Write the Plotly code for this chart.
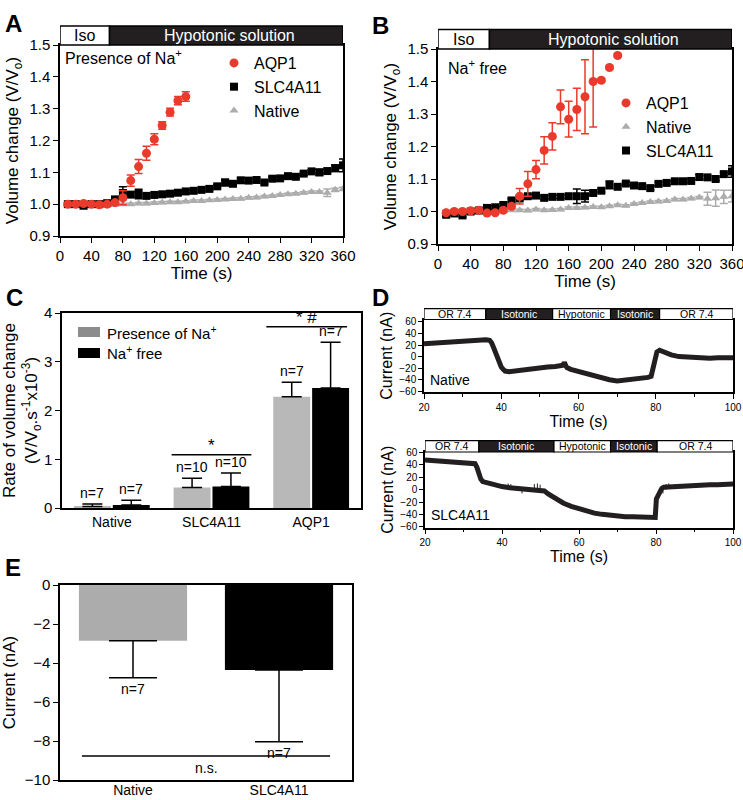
import plotly.graph_objects as go

# ---------------- Panel A data (Presence of Na+) ----------------
a_t_aqp1 = [10, 20, 30, 40, 50, 60, 70, 80, 90, 100, 110, 120, 130, 140, 150, 160]
a_aqp1 = [1.000, 1.000, 1.002, 1.000, 0.998, 1.000, 1.005, 1.020, 1.074, 1.118, 1.160, 1.204, 1.247, 1.289, 1.325, 1.338]
a_aqp1_err = [0.004, 0.004, 0.004, 0.004, 0.004, 0.004, 0.006, 0.022, 0.018, 0.022, 0.022, 0.017, 0.012, 0.012, 0.013, 0.015]

a_t = [10, 20, 30, 40, 50, 60, 70, 80, 90, 100, 110, 120, 130, 140, 150, 160, 170, 180,
       190, 200, 210, 220, 230, 240, 250, 260, 270, 280, 290, 300, 310, 320, 330, 340, 350, 360]
a_slc = [1.000, 1.000, 0.995, 1.000, 1.000, 1.003, 1.015, 1.035, 1.030, 1.032, 1.026, 1.029,
         1.031, 1.033, 1.036, 1.040, 1.042, 1.045, 1.048, 1.056, 1.068, 1.064, 1.075, 1.074,
         1.076, 1.068, 1.080, 1.081, 1.088, 1.086, 1.096, 1.103, 1.100, 1.104, 1.113, 1.122]
a_slc_err = [0.004, 0.004, 0.004, 0.004, 0.004, 0.004, 0.008, 0.020, 0.008, 0.015, 0.005, 0.005,
             0.005, 0.005, 0.005, 0.005, 0.005, 0.005, 0.005, 0.005, 0.010, 0.005, 0.008, 0.005,
             0.005, 0.005, 0.005, 0.005, 0.005, 0.005, 0.005, 0.005, 0.010, 0.006, 0.010, 0.020]
a_nat = [1.000, 1.000, 1.000, 1.000, 1.000, 0.998, 0.998, 1.000, 1.000, 1.002, 1.002, 1.004,
         1.005, 1.006, 1.006, 1.008, 1.010, 1.010, 1.012, 1.013, 1.015, 1.016, 1.017, 1.020,
         1.021, 1.024, 1.026, 1.029, 1.031, 1.033, 1.036, 1.038, 1.038, 1.036, 1.045, 1.048]
a_nat_err = [0.003] * 33 + [0.012, 0.005, 0.005]

# ---------------- Panel B data (Na+ free) ----------------
b_t_aqp1 = [10, 20, 30, 40, 50, 60, 70, 80, 90, 100, 110, 120, 130, 140, 150, 160, 170, 180, 190, 200, 210, 220]
b_aqp1 = [0.996, 1.000, 1.000, 1.002, 1.004, 0.995, 0.996, 1.004, 1.016, 1.047, 1.085, 1.129,
          1.188, 1.231, 1.322, 1.284, 1.314, 1.353, 1.400, 1.404, 1.443, 1.480]
b_aqp1_err = [0.004, 0.004, 0.004, 0.004, 0.004, 0.004, 0.004, 0.004, 0.006, 0.024, 0.038, 0.028,
              0.042, 0.042, 0.052, 0.055, 0.065, 0.114, 0.140, 0.005, 0.005, 0.005]
b_t = a_t
b_slc = [0.990, 0.994, 0.988, 1.000, 1.003, 1.011, 1.013, 1.020, 1.034, 1.040, 1.047, 1.049,
         1.042, 1.045, 1.045, 1.047, 1.047, 1.047, 1.057, 1.064, 1.082, 1.076, 1.086, 1.080,
         1.078, 1.072, 1.085, 1.088, 1.093, 1.093, 1.094, 1.106, 1.105, 1.100, 1.115, 1.123]
b_slc_err = [0.005] * 16 + [0.022, 0.018, 0.005, 0.005, 0.012] + [0.005] * 10 + [0.008, 0.005, 0.005, 0.005, 0.018]
b_nat = [1.000, 1.000, 1.000, 1.000, 1.000, 1.000, 1.000, 1.002, 1.004, 1.004, 1.003, 1.006,
         1.004, 1.005, 1.006, 1.011, 1.011, 1.012, 1.014, 1.013, 1.016, 1.019, 1.018, 1.023,
         1.026, 1.029, 1.031, 1.032, 1.037, 1.037, 1.040, 1.043, 1.039, 1.041, 1.045, 1.047]
b_nat_err = [0.003] * 32 + [0.020, 0.025, 0.020, 0.018]

# ---------------- Panel C data ----------------
c_cats = ["Native", "SLC4A11", "AQP1"]
c_na = [0.03, 0.42, 2.28]
c_na_err = [0.05, 0.19, 0.30]
c_free = [0.06, 0.44, 2.46]
c_free_err = [0.10, 0.28, 0.94]
c_n_na = ["n=7", "n=10", "n=7"]
c_n_free = ["n=7", "n=10", "n=7"]
c_sig_text = ["*", "* #"]
c_sig_x0 = [0.6, 1.55]
c_sig_x1 = [1.4, 2.36]
c_sig_y = [1.09, 3.72]

# ---------------- Panel D data (current traces) ----------------
d1_t = [20, 22, 24, 26, 28, 30, 32, 34, 36, 37, 37.5, 38, 38.5, 39, 39.5, 40, 40.5, 41, 42, 44, 46, 48,
        50, 52, 54, 55, 56, 56.3, 57, 58, 60, 62, 64, 66, 68, 70, 72, 74, 76, 78, 78.8, 79.3, 79.8,
        80.3, 81, 82, 83, 84, 86, 88, 90, 92, 94, 96, 98, 100]
d1_i = [22, 23, 24, 24, 25, 26, 27, 28, 29, 28, 24, 16, 6, -4, -12, -18, -22, -25, -26, -24, -23, -21,
        -20, -18, -17, -16, -15, -10, -19, -22, -26, -30, -34, -37, -40, -42, -41, -40, -38, -36, -34,
        -20, -2, 8, 11, 8, 5, 3, 0, -1, -2, -2, -3, -2, -2, -2]
d1_bounds = [20, 36, 53.3, 68.3, 81, 100]
d2_t = [20, 22, 24, 26, 28, 30, 32, 33, 33.5, 34, 34.5, 35, 36, 38, 40, 42, 44, 46, 48, 50, 51, 52, 54,
        56, 58, 60, 62, 64, 66, 68, 70, 72, 74, 76, 78, 79.8, 80.1, 80.5, 81, 81.5, 82, 84, 86, 88,
        90, 92, 94, 96, 98, 100]
d2_i = [48, 47, 46, 45, 44, 43, 43, 42, 36, 25, 17, 13, 11, 8, 5, 3, 2, 2, 1, 0, -2, -7, -15,
        -22, -27, -31, -34, -38, -40, -42, -43, -44, -44, -45, -46, -45, -15, -10, -8, 2, 4, 5, 6, 7,
        7, 8, 8, 8, 9, 9]
# artifact spikes in the SLC4A11 trace: time, low, high
d2_spike_t = [41.6, 42.3, 45.2, 48.4, 49.2, 49.9, 81.8, 82.6, 83.3]
d2_spike_lo = [2, 2, -6, 0, 0, -1, -6, 0, 2]
d2_spike_hi = [10, 9, 3, 9, 10, 8, 6, 9, 10]
d2_bounds = [20, 34, 53.5, 68.2, 80.3, 100]
d_labels = ["OR 7.4", "Isotonic", "Hypotonic", "Isotonic", "OR 7.4"]
d_dark = [False, True, False, True, False]

# ---------------- Panel E data ----------------
e_cats = ["Native", "SLC4A11"]
e_vals = [-2.86, -4.36]
e_err = [1.89, 3.68]
e_n = ["n=7", "n=7"]

# ---------------- styling helpers ----------------
W, H = 743, 800
FONT = "Liberation Sans, Arial, Helvetica, sans-serif"
RED = "#ea3a2b"
BLK = "#231f20"
GRY = "#acacac"


def xd(l, r):
    return [l / W, r / W]


def yd(t, b):
    return [1 - b / H, 1 - t / H]


fig = go.Figure()


def err(arr, color, w=4):
    return dict(type="data", array=arr, color=color, thickness=1.5, width=w, visible=True)


# Panel A traces
fig.add_trace(go.Scatter(x=a_t, y=a_nat, mode="markers", name="Native", legend="legend", legendrank=3,
                         marker=dict(symbol="triangle-up", size=8, color=GRY),
                         error_y=err(a_nat_err, GRY), xaxis="x", yaxis="y"))
fig.add_trace(go.Scatter(x=a_t, y=a_slc, mode="markers", name="SLC4A11", legend="legend", legendrank=2,
                         marker=dict(symbol="square", size=8, color="black"),
                         error_y=err(a_slc_err, "black"), xaxis="x", yaxis="y"))
fig.add_trace(go.Scatter(x=a_t_aqp1, y=a_aqp1, mode="markers", name="AQP1", legend="legend", legendrank=1,
                         marker=dict(symbol="circle", size=9, color=RED),
                         error_y=err(a_aqp1_err, RED), xaxis="x", yaxis="y"))
# Panel B traces
fig.add_trace(go.Scatter(x=b_t, y=b_nat, mode="markers", name="Native", legend="legend2", legendrank=2,
                         marker=dict(symbol="triangle-up", size=8, color=GRY),
                         error_y=err(b_nat_err, GRY), xaxis="x2", yaxis="y2"))
fig.add_trace(go.Scatter(x=b_t, y=b_slc, mode="markers", name="SLC4A11", legend="legend2", legendrank=3,
                         marker=dict(symbol="square", size=8, color="black"),
                         error_y=err(b_slc_err, "black"), xaxis="x2", yaxis="y2"))
fig.add_trace(go.Scatter(x=b_t_aqp1, y=b_aqp1, mode="markers", name="AQP1", legend="legend2", legendrank=1,
                         marker=dict(symbol="circle", size=9, color=RED),
                         error_y=err(b_aqp1_err, RED), xaxis="x2", yaxis="y2"))

# Panel C bars
fig.add_trace(go.Bar(x=c_cats, y=c_na, marker=dict(color="#b8b8b8", line=dict(width=0)), showlegend=False,
                     error_y=dict(type="data", array=c_na_err, arrayminus=[0] * 3, symmetric=False,
                                  color="black", thickness=1.5, width=10),
                     xaxis="x3", yaxis="y3", offsetgroup="na"))
fig.add_trace(go.Bar(x=c_cats, y=c_free, marker=dict(color="black", line=dict(width=0)), showlegend=False,
                     error_y=dict(type="data", array=c_free_err, arrayminus=[0] * 3, symmetric=False,
                                  color="black", thickness=1.5, width=10),
                     xaxis="x3", yaxis="y3", offsetgroup="free"))

# Panel D traces
fig.add_trace(go.Scatter(x=d1_t, y=d1_i, mode="lines", line=dict(color=BLK, width=5), showlegend=False,
                         xaxis="x4", yaxis="y4"))
fig.add_trace(go.Scatter(x=d2_t, y=d2_i, mode="lines", line=dict(color=BLK, width=5), showlegend=False,
                         xaxis="x5", yaxis="y5"))
sp_x, sp_y = [], []
for t, lo, hi in zip(d2_spike_t, d2_spike_lo, d2_spike_hi):
    sp_x += [t, t, None]
    sp_y += [lo, hi, None]
fig.add_trace(go.Scatter(x=sp_x, y=sp_y, mode="lines", line=dict(color=BLK, width=1), showlegend=False,
                         connectgaps=False, xaxis="x5", yaxis="y5"))

# Panel E bars
fig.add_trace(go.Bar(x=e_cats, y=e_vals, marker=dict(color=[GRY, "black"], line=dict(width=0)),
                     showlegend=False,
                     error_y=dict(type="data", array=[0, 0], arrayminus=e_err, symmetric=False,
                                  color="black", thickness=1.5, width=24),
                     xaxis="x6", yaxis="y6"))

axis_common = dict(showline=True, linecolor="black", linewidth=1.5, mirror=True, ticks="outside",
                   ticklen=5, tickwidth=1.2, tickcolor="black", showgrid=False, zeroline=False,
                   automargin=False, ticklabeloverflow="allow",
                   tickfont=dict(family=FONT, size=15, color="black"))
title_font = dict(family=FONT, size=17, color="black")

shapes = []
annotations = []


def header_y(ydom, frac):
    return ydom[1] + frac * (ydom[1] - ydom[0])


# ---- A and B axes ----
for ax, xdom, ydom in [("", xd(60, 343), yd(45, 236)), ("2", xd(438, 732), yd(49, 244))]:
    xa = dict(axis_common, domain=xdom, range=[0, 360], dtick=40, tick0=0,
              title=dict(text="Time (s)", font=title_font, standoff=2), anchor="y" + ax)
    ya = dict(axis_common, domain=ydom, range=[0.9, 1.5], dtick=0.1, tickformat=".1f",
              title=dict(text="Volume change (V/V<sub>o</sub>)", font=title_font, standoff=6), anchor="x" + ax)
    fig.update_layout(**{"xaxis" + ax: xa, "yaxis" + ax: ya})
    y0h, y1h, ymh = header_y(ydom, 0), header_y(ydom, 0.1), header_y(ydom, 0.05)
    shapes.append(dict(type="rect", xref="x" + ax, yref="paper", x0=0, x1=63, y0=y0h, y1=y1h,
                       fillcolor="white", line=dict(color="black", width=1.5)))
    shapes.append(dict(type="rect", xref="x" + ax, yref="paper", x0=63, x1=360, y0=y0h, y1=y1h,
                       fillcolor=BLK, line=dict(color="black", width=1.5)))
    annotations.append(dict(xref="x" + ax, yref="paper", x=31.5, y=ymh, yanchor="middle", text="Iso",
                            showarrow=False, font=dict(family=FONT, size=16, color="black")))
    annotations.append(dict(xref="x" + ax, yref="paper", x=215, y=ymh, yanchor="middle",
                            text="Hypotonic solution",
                            showarrow=False, font=dict(family=FONT, size=16, color="white")))

annotations.append(dict(xref="paper", yref="paper", x=63 / W, y=1 - 57 / H, xanchor="left", yanchor="middle",
                        text="Presence of Na<sup>+</sup>", showarrow=False,
                        font=dict(family=FONT, size=16, color="black")))
annotations.append(dict(xref="paper", yref="paper", x=446 / W, y=1 - 67 / H, xanchor="left", yanchor="middle",
                        text="Na<sup>+</sup> free", showarrow=False,
                        font=dict(family=FONT, size=16, color="black")))

# ---- C axes ----
fig.update_layout(
    xaxis3=dict(axis_common, domain=xd(62, 361), ticks="", ticklen=0, anchor="y3",
                tickfont=dict(family=FONT, size=14, color="black")),
    yaxis3=dict(axis_common, domain=yd(313, 508), range=[0, 4], dtick=1, anchor="x3",
                title=dict(text="Rate of volume change<br>(V/V<sub>o</sub>.s<sup>-1</sup>x10<sup>-3</sup>)",
                           font=title_font, standoff=6)),
)
for i, cat in enumerate(c_cats):
    annotations.append(dict(xref="x3", yref="y3", x=cat, y=c_na[i] + c_na_err[i], xshift=-19.5, yshift=1,
                            yanchor="bottom", text=c_n_na[i], showarrow=False,
                            font=dict(family=FONT, size=14, color="black")))
    annotations.append(dict(xref="x3", yref="y3", x=cat, y=c_free[i] + c_free_err[i], xshift=19.5, yshift=1,
                            yanchor="bottom", text=c_n_free[i], showarrow=False,
                            font=dict(family=FONT, size=14, color="black")))
for i in range(2):
    shapes.append(dict(type="line", xref="x3", yref="y3", x0=c_sig_x0[i], x1=c_sig_x1[i], y0=c_sig_y[i],
                       y1=c_sig_y[i], line=dict(color="black", width=1.5)))
    annotations.append(dict(xref="x3", yref="y3", x=(c_sig_x0[i] + c_sig_x1[i]) / 2, y=c_sig_y[i],
                            yanchor="bottom", yshift=-2, text=c_sig_text[i], showarrow=False,
                            font=dict(family=FONT, size=17, color="black")))
# C legend
shapes.append(dict(type="rect", xref="paper", yref="paper", x0=78 / W, x1=100 / W, y0=1 - 337 / H,
                   y1=1 - 327 / H, fillcolor="#8c8c8c", line=dict(width=0)))
shapes.append(dict(type="rect", xref="paper", yref="paper", x0=78 / W, x1=100 / W, y0=1 - 358 / H,
                   y1=1 - 348 / H, fillcolor="black", line=dict(width=0)))
annotations.append(dict(xref="paper", yref="paper", x=105 / W, y=1 - 332 / H, xanchor="left", yanchor="middle",
                        text="Presence of Na<sup>+</sup>", showarrow=False,
                        font=dict(family=FONT, size=15, color="black")))
annotations.append(dict(xref="paper", yref="paper", x=105 / W, y=1 - 353 / H, xanchor="left", yanchor="middle",
                        text="Na<sup>+</sup> free", showarrow=False,
                        font=dict(family=FONT, size=15, color="black")))

# ---- D axes ----
small = dict(family=FONT, size=10, color="black")
for ax, xdom, ydom, yr, bounds, lab in [("4", xd(424, 733), yd(319.5, 392), [-61.2, 64.1], d1_bounds, "Native"),
                                        ("5", xd(425, 733), yd(452, 527.5), [-61.3, 61], d2_bounds, "SLC4A11")]:
    xa = dict(axis_common, domain=xdom, range=[20, 100], dtick=20, tick0=20, ticklen=5, tickfont=small,
              minor=dict(dtick=10, ticks="outside", ticklen=3, tickcolor="black"),
              title=dict(text="Time (s)", font=dict(family=FONT, size=16, color="black"), standoff=2),
              anchor="y" + ax)
    ya = dict(axis_common, domain=ydom, range=yr, dtick=20, tick0=0, ticklen=4, tickfont=small,
              title=dict(text="Current (nA)", font=dict(family=FONT, size=16, color="black"), standoff=3),
              anchor="x" + ax)
    fig.update_layout(**{"xaxis" + ax: xa, "yaxis" + ax: ya})
    y0h, y1h, ymh = header_y(ydom, 0), header_y(ydom, 0.15), header_y(ydom, 0.075)
    for j in range(5):
        shapes.append(dict(type="rect", xref="x" + ax, yref="paper", x0=bounds[j], x1=bounds[j + 1],
                           y0=y0h, y1=y1h, fillcolor=(BLK if d_dark[j] else "white"),
                           line=dict(color="black", width=1.2)))
        annotations.append(dict(xref="x" + ax, yref="paper", x=(bounds[j] + bounds[j + 1]) / 2,
                                y=ymh, yanchor="middle", text=d_labels[j], showarrow=False,
                                font=dict(family=FONT, size=10.5, color=("white" if d_dark[j] else "black"))))
    annotations.append(dict(xref="x" + ax, yref="paper", x=21, y=ydom[0] + 0.003, xanchor="left",
                            yanchor="bottom", text=lab, showarrow=False,
                            font=dict(family=FONT, size=14, color="black")))

# ---- E axes ----
fig.update_layout(
    xaxis6=dict(axis_common, domain=xd(60, 352), ticks="", ticklen=0, anchor="y6", ticklabelstandoff=-4,
                tickfont=dict(family=FONT, size=14, color="black")),
    yaxis6=dict(axis_common, domain=yd(585, 780), range=[-10, 0], dtick=2, anchor="x6",
                title=dict(text="Current (nA)", font=title_font, standoff=6)),
)
for i, cat in enumerate(e_cats):
    annotations.append(dict(xref="x6", yref="y6", x=cat, y=e_vals[i] - e_err[i], yanchor="top", yshift=-1,
                            text=e_n[i], showarrow=False, font=dict(family=FONT, size=14, color="black")))
shapes.append(dict(type="line", xref="x6", yref="y6", x0=-0.35, x1=1.35, y0=-8.77, y1=-8.77,
                   line=dict(color="black", width=1.5)))
annotations.append(dict(xref="x6", yref="y6", x=0.5, y=-8.77, yanchor="top", yshift=-2, text="n.s.",
                        showarrow=False, font=dict(family=FONT, size=14, color="black")))

# ---- panel letters ----
for letter, lx, ly in [("A", 3, 8), ("B", 370, 10), ("C", 4, 282), ("D", 370, 282), ("E", 3, 552)]:
    annotations.append(dict(xref="paper", yref="paper", x=lx / W, y=1 - ly / H, xanchor="left", yanchor="top",
                            text="<b>" + letter + "</b>", showarrow=False,
                            font=dict(family=FONT, size=24, color="black")))

fig.update_layout(
    width=W, height=H, margin=dict(l=0, r=0, t=0, b=0, autoexpand=False),
    paper_bgcolor="white", plot_bgcolor="white",
    barmode="group", bargap=0.22, bargroupgap=0.05,
    shapes=shapes, annotations=annotations,
    font=dict(family=FONT, color="black"),
    legend=dict(x=214 / W, y=1 - 46 / H, xanchor="left", yanchor="top", bgcolor="rgba(0,0,0,0)",
                font=dict(family=FONT, size=16, color="black"), tracegroupgap=0, itemwidth=30),
    legend2=dict(x=606 / W, y=1 - 86 / H, xanchor="left", yanchor="top", bgcolor="rgba(0,0,0,0)",
                 font=dict(family=FONT, size=16, color="black"), tracegroupgap=0, itemwidth=30),
)
# separate legend groups for each entry
for k, tr in enumerate(fig.data):
    if tr.type == "scatter" and tr.showlegend is not False and tr.name:
        tr.legendgroup = "g%d" % k

fig.write_html("out.html", config={"displayModeBar": False},
               post_script="document.body.style.margin='0';document.body.style.overflow='hidden';")
